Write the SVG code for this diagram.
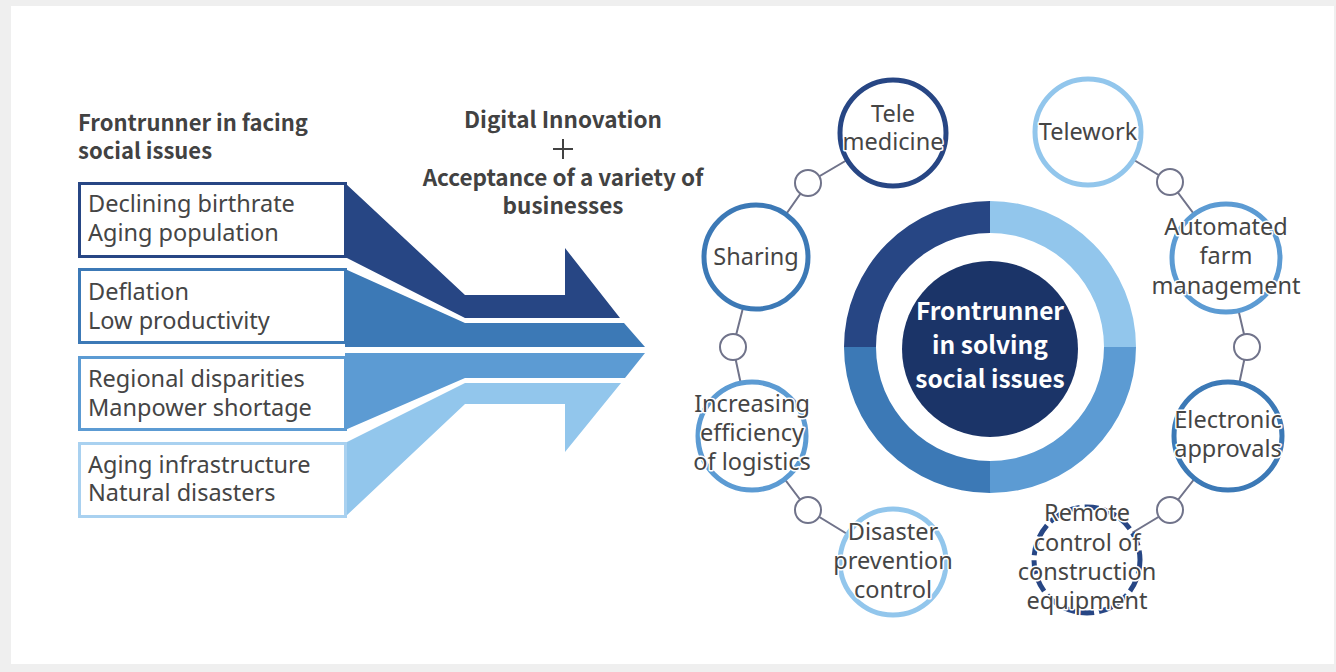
<svg xmlns="http://www.w3.org/2000/svg" width="1336" height="672" viewBox="0 0 1336 672">
  <style>
    .head { font-family: "Noto Sans CJK JP", "Noto Sans", sans-serif; font-weight: bold; fill: #424242; }
    .body { font-family: "Noto Sans", "Open Sans", sans-serif; font-size: 23.5px; fill: #454545; }
    .core { font-family: "Noto Sans CJK JP", "Noto Sans", sans-serif; font-weight: bold; font-size: 24.5px; fill: #ffffff; text-anchor: middle; }
    .sat { fill: #ffffff; stroke-width: 5; }
    .lbl { font-family: "Noto Sans", "Open Sans", sans-serif; font-size: 23.5px; fill: #454545; text-anchor: middle;
           stroke: #ffffff; stroke-width: 3; paint-order: stroke; stroke-linejoin: round; }
    .dot { fill: #ffffff; stroke: #70738a; stroke-width: 2; }
    .link { fill: none; stroke: #70738a; stroke-width: 2; }
    .c1 { stroke: #274684; }
    .c2 { stroke: #3c79b6; }
    .c3 { stroke: #5c9bd3; }
    .c4 { stroke: #92c6ec; }
  </style>

  <!-- page -->
  <rect x="0" y="0" width="1336" height="672" fill="#efefef"/>
  <rect x="11" y="6" width="1323" height="658" fill="#ffffff"/>

  <!-- left heading -->
  <g id="heading-left">
    <text class="head" x="78" y="131" font-size="22">Frontrunner in facing</text>
    <text class="head" x="78" y="159" font-size="22">social issues</text>
  </g>

  <!-- converging arrow bands -->
  <g id="bands">
    <polygon fill="#274684" points="345,183 465,295 565,295 565,248 620,318 465,318 345,257"/>
    <polygon fill="#3c79b6" points="345,269 465,323 624,323 645,347 345,347"/>
    <polygon fill="#5c9bd3" points="345,353 645,353 625,378 465,378 345,430"/>
    <polygon fill="#92c6ec" points="345,443 465,383 621,383 565,452 565,404 465,404 345,517"/>
  </g>

  <!-- issue boxes -->
  <g id="box-birthrate">
    <rect x="79.5" y="183.5" width="266" height="73" fill="#ffffff" stroke="#274684" stroke-width="3"/>
    <text class="body" x="88" y="212">Declining birthrate</text>
    <text class="body" x="88" y="241">Aging population</text>
  </g>
  <g id="box-deflation">
    <rect x="79.5" y="269.5" width="266" height="73" fill="#ffffff" stroke="#3c79b6" stroke-width="3"/>
    <text class="body" x="88" y="300">Deflation</text>
    <text class="body" x="88" y="329">Low productivity</text>
  </g>
  <g id="box-regional">
    <rect x="79.5" y="357.5" width="266" height="72" fill="#ffffff" stroke="#5c9bd3" stroke-width="3"/>
    <text class="body" x="88" y="387" fill="#333333">Regional disparities</text>
    <text class="body" x="88" y="416" fill="#333333">Manpower shortage</text>
  </g>
  <g id="box-infrastructure">
    <rect x="79.5" y="443.5" width="266" height="73" fill="#ffffff" stroke="#a9d1f0" stroke-width="3"/>
    <text class="body" x="88" y="473">Aging infrastructure</text>
    <text class="body" x="88" y="501">Natural disasters</text>
  </g>

  <!-- middle caption -->
  <g id="caption-middle">
    <text class="head" x="563" y="128" font-size="22.5" text-anchor="middle">Digital Innovation</text>
    <path d="M563,139 V159 M553,149 H573" stroke="#424242" stroke-width="2" fill="none"/>
    <text class="head" x="563" y="186" font-size="22.5" text-anchor="middle">Acceptance of a variety of</text>
    <text class="head" x="563" y="214" font-size="22.5" text-anchor="middle">businesses</text>
  </g>

  <!-- connectors between the satellite topics -->
  <g id="connectors">
    <polyline class="link" points="756,257 808,183 893,133"/>
    <polyline class="link" points="1088,132 1170,182 1226,257"/>
    <polyline class="link" points="1226,257 1247,347 1228,436"/>
    <polyline class="link" points="1228,436 1170,510 1087,560"/>
    <polyline class="link" points="752,436 808,510 893,562"/>
    <polyline class="link" points="756,257 733,347 752,436"/>
    <circle class="dot" cx="808" cy="183" r="13"/>
    <circle class="dot" cx="1170" cy="182" r="13"/>
    <circle class="dot" cx="1247" cy="347" r="13"/>
    <circle class="dot" cx="1170" cy="510" r="13"/>
    <circle class="dot" cx="808" cy="510" r="13"/>
    <circle class="dot" cx="733" cy="347" r="13"/>
  </g>

  <!-- central ring -->
  <g id="core">
    <path fill="#274684" d="M990,201 A146,146 0 0 0 844,347 L876,347 A114,114 0 0 1 990,233 Z"/>
    <path fill="#92c6ec" d="M990,201 A146,146 0 0 1 1136,347 L1104,347 A114,114 0 0 0 990,233 Z"/>
    <path fill="#5c9bd3" d="M1136,347 A146,146 0 0 1 990,493 L990,461 A114,114 0 0 0 1104,347 Z"/>
    <path fill="#3c79b6" d="M990,493 A146,146 0 0 1 844,347 L876,347 A114,114 0 0 0 990,461 Z"/>
    <circle cx="990" cy="349" r="88" fill="#1b3468"/>
    <text class="core" x="990" y="320">Frontrunner</text>
    <text class="core" x="990" y="354">in solving</text>
    <text class="core" x="990" y="388">social issues</text>
  </g>

  <!-- satellite topics -->
  <g id="telemedicine">
    <circle class="sat c1" cx="893" cy="133" r="53"/>
    <text class="lbl" x="893" y="122">Tele</text>
    <text class="lbl" x="893" y="150">medicine</text>
  </g>
  <g id="telework">
    <circle class="sat c4" cx="1088" cy="132" r="53"/>
    <text class="lbl" x="1088" y="140">Telework</text>
  </g>
  <g id="farm">
    <circle class="sat c3" cx="1226" cy="258" r="54"/>
    <text class="lbl" x="1226" y="235">Automated</text>
    <text class="lbl" x="1226" y="264">farm</text>
    <text class="lbl" x="1226" y="294">management</text>
  </g>
  <g id="approvals">
    <circle class="sat c2" cx="1228" cy="436" r="54"/>
    <text class="lbl" x="1228" y="428">Electronic</text>
    <text class="lbl" x="1228" y="457">approvals</text>
  </g>
  <g id="construction">
    <circle class="sat c1" cx="1087" cy="560" r="53" stroke-dasharray="14 5"/>
    <text class="lbl" x="1087" y="521">Remote</text>
    <text class="lbl" x="1087" y="551">control of</text>
    <text class="lbl" x="1087" y="580">construction</text>
    <text class="lbl" x="1087" y="609">equipment</text>
  </g>
  <g id="disaster">
    <circle class="sat c4" cx="893" cy="562" r="53"/>
    <text class="lbl" x="893" y="540">Disaster</text>
    <text class="lbl" x="893" y="569">prevention</text>
    <text class="lbl" x="893" y="598">control</text>
  </g>
  <g id="logistics">
    <circle class="sat c3" cx="752" cy="436" r="54"/>
    <text class="lbl" x="752" y="412">Increasing</text>
    <text class="lbl" x="752" y="441">efficiency</text>
    <text class="lbl" x="752" y="470">of logistics</text>
  </g>
  <g id="sharing">
    <circle class="sat c2" cx="756" cy="257" r="52"/>
    <text class="lbl" x="756" y="265">Sharing</text>
  </g>
</svg>
